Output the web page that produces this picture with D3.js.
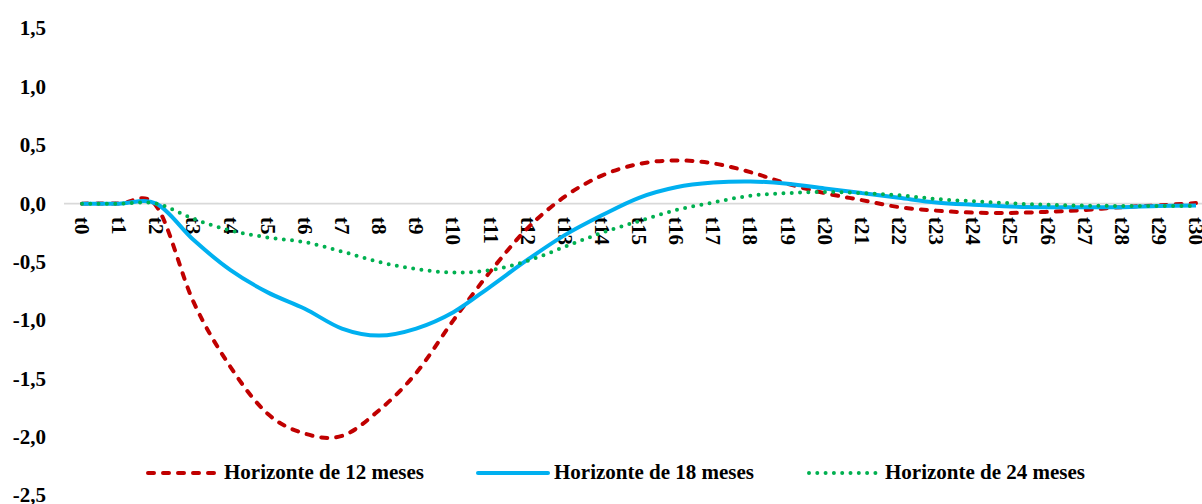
<!DOCTYPE html>
<html>
<head>
<meta charset="utf-8">
<script src="https://cdn.jsdelivr.net/npm/d3@7"></script>
<style>
  html, body { margin: 0; padding: 0; background: #fff; }
  svg { display: block; }
  text { font-family: "Liberation Serif", "Times New Roman", serif; font-weight: bold; fill: #000; }
</style>
</head>
<body>
<svg id="chart" width="1202" height="504"></svg>
<script>
// Periods on the horizontal axis
const periods = d3.range(0, 31).map(i => "t" + i);

// Response paths for each horizon
const horizon12 = [0, 0, -0.02, -0.84, -1.40, -1.80, -1.97, -1.99, -1.77, -1.45, -1.00, -0.58, -0.21, 0.06, 0.24, 0.34, 0.37, 0.345, 0.27, 0.17, 0.09, 0.03, -0.03, -0.06, -0.077, -0.08, -0.07, -0.055, -0.03, -0.015, 0.005];
const horizon18 = [0, 0, 0.0, -0.31, -0.57, -0.76, -0.90, -1.07, -1.13, -1.07, -0.93, -0.71, -0.48, -0.27, -0.10, 0.05, 0.14, 0.18, 0.19, 0.17, 0.13, 0.09, 0.05, 0.01, -0.01, -0.025, -0.03, -0.03, -0.03, -0.02, -0.017];
const horizon24 = [0, 0, 0.0, -0.13, -0.23, -0.29, -0.33, -0.41, -0.50, -0.56, -0.59, -0.57, -0.49, -0.37, -0.25, -0.15, -0.055, 0.01, 0.068, 0.09, 0.10, 0.09, 0.072, 0.04, 0.02, 0.003, -0.01, -0.017, -0.02, -0.02, -0.02];

// Value axis ticks
const yTicks = [1.5, 1.0, 0.5, 0.0, -0.5, -1.0, -1.5, -2.0, -2.5];

const seriesNames = ["Horizonte de 12 meses", "Horizonte de 18 meses", "Horizonte de 24 meses"];

const series = [
  { name: seriesNames[0], values: horizon12, color: "#C00000", width: 4, dash: "6,9" },
  { name: seriesNames[1], values: horizon18, color: "#00B0F0", width: 4, dash: null },
  { name: seriesNames[2], values: horizon24, color: "#00B050", width: 4, dash: "0,8.3" }
];

const svg = d3.select("#chart");

const x = d3.scalePoint().domain(periods).range([82, 1196]);
const y = d3.scaleLinear().domain([-2.5, 1.5]).range([495.5, 28.5]);

const fmt = v => d3.format(".1f")(v).replace(".", ",").replace("−", "-");

// Zero line
svg.append("line")
  .attr("x1", 64).attr("x2", 1202)
  .attr("y1", y(0)).attr("y2", y(0))
  .attr("stroke", "#D9D9D9").attr("stroke-width", 1.8);

// Value axis labels
svg.append("g").selectAll("text")
  .data(yTicks)
  .join("text")
  .attr("x", 46)
  .attr("y", d => y(d))
  .attr("dy", "0.33em")
  .attr("text-anchor", "end")
  .attr("font-size", 21)
  .text(d => fmt(d));

// Period labels, rotated under the zero line
svg.append("g").selectAll("text")
  .data(periods)
  .join("text")
  .attr("transform", d => `translate(${x(d)},217) rotate(90)`)
  .attr("dy", "0.33em")
  .attr("text-anchor", "start")
  .attr("font-size", 21)
  .text(d => d);

// Smoothed series lines
const line = d3.line()
  .x((d, i) => x(periods[i]))
  .y(d => y(d))
  .curve(d3.curveCardinal.tension(0));

svg.append("g").selectAll("path")
  .data(series)
  .join("path")
  .attr("d", d => line(d.values))
  .attr("fill", "none")
  .attr("stroke", d => d.color)
  .attr("stroke-width", d => d.width)
  .attr("stroke-linecap", d => d.dash ? "round" : "butt")
  .attr("stroke-linejoin", "round")
  .attr("stroke-dasharray", d => d.dash);

// Legend
const legendPos = [
  { x1: 148, x2: 218, tx: 224 },
  { x1: 478, x2: 548, tx: 554 },
  { x1: 809, x2: 878, tx: 885 }
];
const legendY = 473;
const legend = svg.append("g").selectAll("g")
  .data(series)
  .join("g");

legend.append("line")
  .attr("x1", (d, i) => legendPos[i].x1)
  .attr("x2", (d, i) => legendPos[i].x2)
  .attr("y1", legendY).attr("y2", legendY)
  .attr("stroke", d => d.color)
  .attr("stroke-width", d => d.width)
  .attr("stroke-linecap", d => d.dash ? "round" : "round")
  .attr("stroke-dasharray", d => d.dash);

legend.append("text")
  .attr("x", (d, i) => legendPos[i].tx)
  .attr("y", 479)
  .attr("font-size", 21)
  .text(d => d.name);
</script>
</body>
</html>
